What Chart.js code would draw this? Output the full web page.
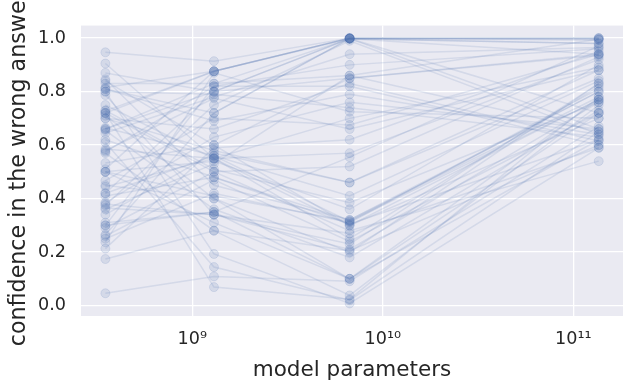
<!DOCTYPE html>
<html>
<head>
<meta charset="utf-8">
<script src="https://cdn.jsdelivr.net/npm/chart.js@4.4.1/dist/chart.umd.min.js"></script>
<style>
  body { margin: 0; background: #fff; }
  canvas { display: block; }
</style>
</head>
<body>
<canvas id="chart" width="632" height="388"></canvas>
<script>
// model sizes (number of parameters)
var params = [3.5e8, 1.3e9, 6.7e9, 1.36e11];

// one row per question: confidence in the wrong answer for each model size
var conf = [
  [0.947, 0.914, 1.0, 1.0],
  [0.905, 0.55, 0.30, 0.70],
  [0.87, 0.80, 0.998, 0.994],
  [0.846, 0.45, 0.32, 0.78],
  [0.83, 0.83, 0.86, 0.65],
  [0.815, 0.876, 1.0, 1.0],
  [0.80, 0.79, 0.74, 0.63],
  [0.787, 0.34, 0.21, 0.76],
  [0.75, 0.55, 0.25, 0.82],
  [0.728, 0.876, 0.998, 0.98],
  [0.72, 0.50, 0.52, 0.93],
  [0.71, 0.40, 0.10, 0.62],
  [0.70, 0.66, 0.83, 0.615],
  [0.665, 0.56, 0.41, 0.84],
  [0.655, 0.36, 0.18, 0.73],
  [0.645, 0.78, 0.94, 0.965],
  [0.61, 0.144, 0.02, 0.65],
  [0.585, 0.55, 0.70, 0.89],
  [0.575, 0.82, 0.82, 0.60],
  [0.533, 0.60, 0.30, 0.77],
  [0.51, 0.876, 1.0, 0.994],
  [0.50, 0.31, 0.10, 0.72],
  [0.467, 0.70, 0.675, 0.94],
  [0.444, 0.55, 0.57, 0.92],
  [0.42, 0.80, 0.85, 0.94],
  [0.41, 0.48, 0.32, 0.80],
  [0.385, 0.63, 0.76, 0.66],
  [0.375, 0.75, 0.99, 0.64],
  [0.365, 0.34, 0.27, 0.59],
  [0.34, 0.57, 0.46, 0.85],
  [0.30, 0.82, 0.90, 0.96],
  [0.29, 0.50, 0.28, 0.54],
  [0.265, 0.72, 0.998, 0.66],
  [0.25, 0.42, 0.31, 0.81],
  [0.237, 0.87, 0.725, 0.70],
  [0.213, 0.59, 0.62, 0.95],
  [0.174, 0.28, 0.038, 0.75],
  [0.046, 0.109, 0.091, 0.67],
  [0.80, 0.193, 0.008, 0.59],
  [0.72, 0.069, 0.024, 0.78],
  [0.66, 0.80, 0.998, 0.72],
  [0.50, 0.54, 0.36, 0.90],
  [0.38, 0.34, 0.23, 0.83],
  [0.81, 0.69, 0.79, 0.64],
  [0.58, 0.775, 0.66, 0.88],
  [0.45, 0.40, 0.20, 0.83],
  [0.73, 0.51, 0.385, 0.76],
  [0.31, 0.35, 0.555, 0.97],
  [0.84, 0.60, 0.85, 0.935],
  [0.62, 0.48, 0.305, 0.62],
  [0.72, 0.876, 1.0, 1.0],
  [0.66, 0.83, 0.998, 0.98],
  [0.81, 0.72, 0.998, 0.94],
  [0.50, 0.41, 0.315, 0.80],
  [0.42, 0.56, 0.315, 0.77],
  [0.30, 0.35, 0.10, 0.77],
  [0.36, 0.53, 0.86, 0.996],
  [0.26, 0.47, 0.24, 0.72],
  [0.57, 0.28, 0.205, 0.60],
  [0.70, 0.58, 0.46, 0.88]
];

var xTicks = [1e9, 1e10, 1e11];
var xTickLabels = ['10\u2079', '10\u00b9\u2070', '10\u00b9\u00b9'];
var yTicks = [0, 0.2, 0.4, 0.6, 0.8, 1.0];
var yTitle = 'confidence in the wrong answer';

var blue = 'rgba(76, 114, 176, 0.14)';
var ink = '#262626';

var datasets = [];
for (var i in conf) {
  var pts = [];
  for (var j in params) {
    pts.push({x: params[j], y: conf[i][j]});
  }
  datasets.push({
    data: pts,
    borderColor: blue,
    borderWidth: 1.5,
    backgroundColor: blue,
    pointBackgroundColor: blue,
    pointBorderColor: blue,
    pointBorderWidth: 1,
    pointRadius: 4.5,
    tension: 0
  });
}

// grey plot background
var bgPlugin = {
  id: 'bg',
  beforeDraw: function(chart) {
    var a = chart.chartArea;
    var ctx = chart.ctx;
    ctx.save();
    ctx.fillStyle = '#EAEAF2';
    ctx.fillRect(a.left, a.top, a.right - a.left, a.bottom - a.top);
    ctx.restore();
  }
};

// y label, centred on the axes like matplotlib (runs off the top)
var yTitlePlugin = {
  id: 'ytitle',
  afterDraw: function(chart) {
    var a = chart.chartArea;
    var ctx = chart.ctx;
    ctx.save();
    ctx.translate(25, (a.top + a.bottom) / 2 - 2);
    ctx.rotate(-Math.PI / 2);
    ctx.fillStyle = ink;
    ctx.font = '22.2px "DejaVu Sans"';
    ctx.textAlign = 'center';
    ctx.textBaseline = 'alphabetic';
    ctx.fillText(yTitle, 0, 0);
    ctx.restore();
  }
};

var ctx = document.getElementById('chart');
new Chart(ctx, {
  type: 'line',
  data: { datasets: datasets },
  plugins: [bgPlugin, yTitlePlugin],
  options: {
    responsive: false,
    animation: false,
    devicePixelRatio: 1,
    layout: { padding: { top: 10, right: 9, left: 0, bottom: 0 } },
    plugins: { legend: { display: false }, tooltip: { enabled: false } },
    scales: {
      x: {
        type: 'logarithmic',
        min: Math.pow(10, 8.416),
        max: Math.pow(10, 11.261),
        afterBuildTicks: function(scale) {
          scale.ticks = xTicks.map(function(v) { return {value: v}; });
        },
        afterFit: function(scale) { scale.height = 72; },
        grid: { color: '#ffffff', lineWidth: 1.3, drawTicks: false },
        border: { display: false },
        ticks: {
          padding: 13,
          color: ink,
          font: { family: 'DejaVu Sans', size: 17.6 },
          maxRotation: 0,
          autoSkip: false,
          callback: function(v) {
            var k = xTicks.indexOf(v);
            return k >= 0 ? xTickLabels[k] : '';
          }
        },
        title: {
          display: true,
          text: 'model parameters',
          color: ink,
          font: { family: 'DejaVu Sans', size: 21.5 },
          padding: { top: 0, bottom: 5 }
        }
      },
      y: {
        min: -0.039,
        max: 1.047,
        afterBuildTicks: function(scale) {
          scale.ticks = yTicks.map(function(v) { return {value: v}; });
        },
        afterFit: function(scale) { scale.width = 81; },
        grid: { color: '#ffffff', lineWidth: 1.3, drawTicks: false },
        border: { display: false },
        ticks: {
          padding: 15,
          color: ink,
          font: { family: 'DejaVu Sans', size: 17.6 },
          callback: function(v) { return v.toFixed(1); }
        }
      }
    }
  }
});
</script>
</body>
</html>
